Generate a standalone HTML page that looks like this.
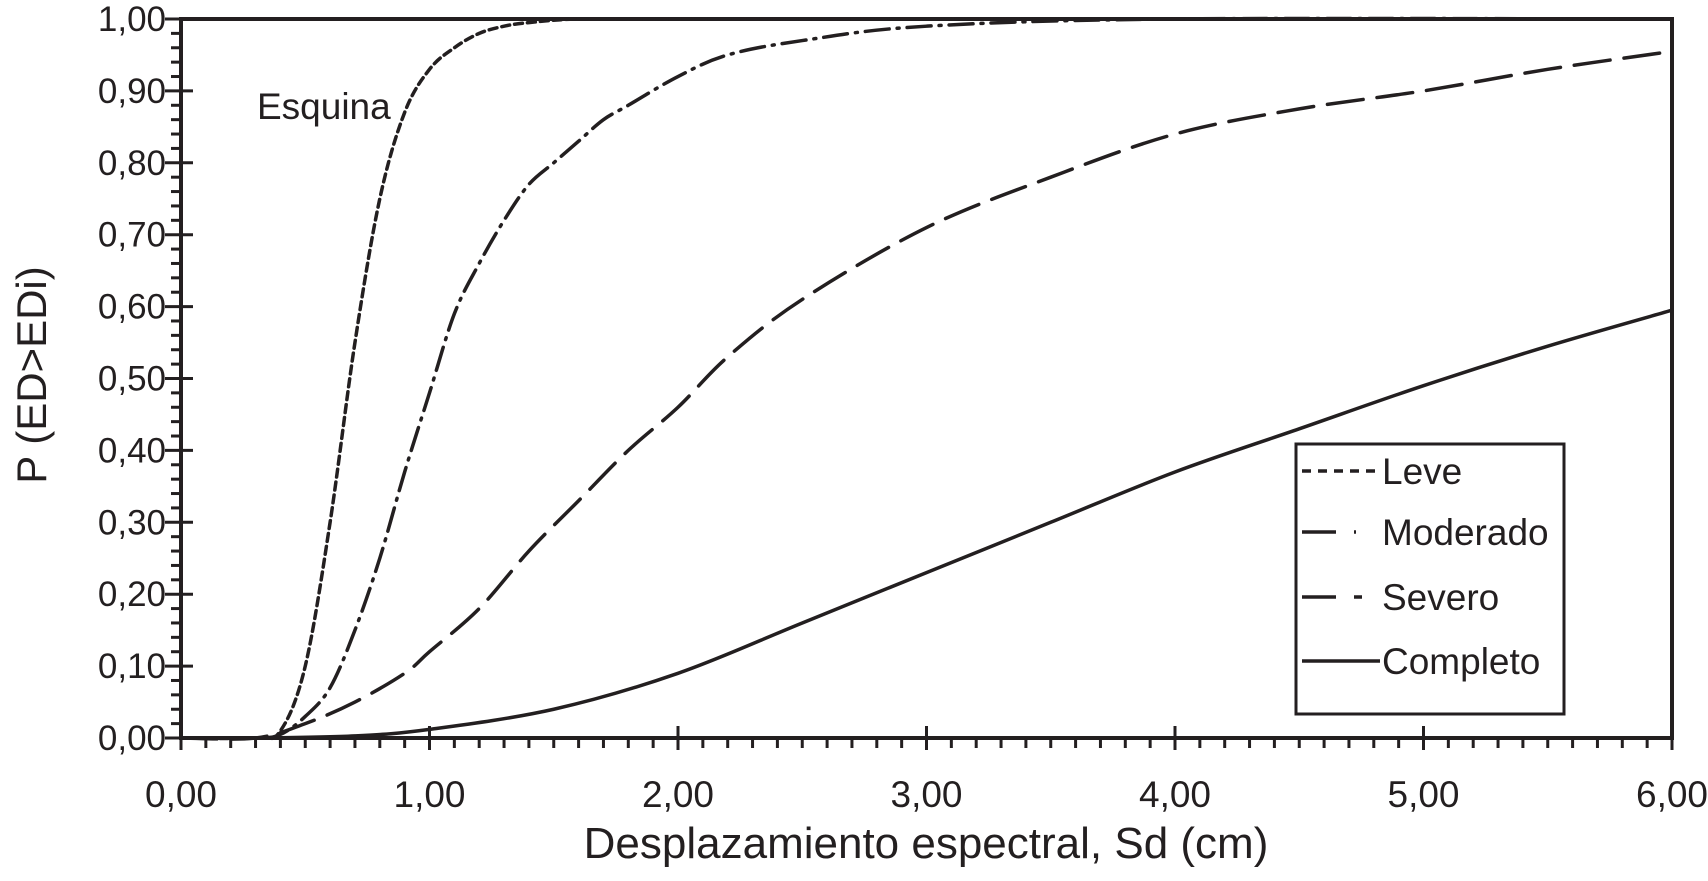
<!DOCTYPE html>
<html><head><meta charset="utf-8"><style>
html,body{margin:0;padding:0;background:#fff;}
svg{display:block;font-family:"Liberation Sans",Arial,sans-serif;}
</style></head><body>
<svg id="chart" width="1708" height="881" viewBox="0 0 1708 881"></svg>
<script>
const xTicks=[0,1,2,3,4,5,6];
const xTickLabels=["0,00","1,00","2,00","3,00","4,00","5,00","6,00"];
const yTicks=[0,0.1,0.2,0.3,0.4,0.5,0.6,0.7,0.8,0.9,1.0];
const yTickLabels=["0,00","0,10","0,20","0,30","0,40","0,50","0,60","0,70","0,80","0,90","1,00"];
const leveX=[0,0.3,0.4,0.5,0.6,0.7,0.8,0.9,1.0,1.1,1.2,1.3,1.4,1.6,2.0,6.0];
const leveY=[0,0,0.01,0.1,0.3,0.55,0.75,0.87,0.93,0.96,0.98,0.99,0.995,1.0,1.0,1.0];
const modX=[0,0.3,0.4,0.5,0.6,0.7,0.8,0.9,1.0,1.1,1.2,1.3,1.4,1.5,1.6,1.7,1.8,2.0,2.2,2.5,3.0,4.0,6.0];
const modY=[0,0,0.005,0.03,0.07,0.15,0.25,0.37,0.48,0.59,0.66,0.72,0.77,0.8,0.83,0.86,0.88,0.92,0.95,0.97,0.99,1.0,1.0];
const sevX=[0,0.3,0.5,0.7,0.9,1.0,1.2,1.4,1.6,1.8,2.0,2.2,2.5,3.0,3.5,4.0,4.5,5.0,5.5,6.0];
const sevY=[0,0,0.02,0.05,0.09,0.12,0.18,0.26,0.33,0.4,0.46,0.53,0.61,0.71,0.78,0.84,0.875,0.9,0.93,0.955];
const comX=[0,0.3,0.7,1.0,1.5,2.0,2.5,3.0,3.5,4.0,4.5,5.0,5.5,6.0];
const comY=[0,0,0.003,0.012,0.04,0.09,0.16,0.23,0.3,0.37,0.43,0.49,0.545,0.595];

const NS="http://www.w3.org/2000/svg";
const svg=document.getElementById('chart');
const L=181,R=1672,T=19,B=738;
const sx=v=>L+(v/6)*(R-L);
const sy=v=>B-v*(B-T);
function mk(tag,attrs,parent){const e=document.createElementNS(NS,tag);for(const k in attrs)e.setAttribute(k,attrs[k]);(parent||svg).appendChild(e);return e;}

const frame=mk('rect',{x:L,y:T,width:R-L,height:B-T,fill:'none',stroke:'#231f20','stroke-width':4});



for(let i=0;i<=60;i++){const x=sx(i/10);const big=i%10===0;
 const t=mk('line',{x1:x,x2:x,y1:big?B-12:B,y2:B+(big?12:10),stroke:'#231f20','stroke-width':3});
 
 }
for(let i=0;i<=50;i++){const y=sy(i/50);const big=i%5===0;
 const t=mk('line',{x1:L-(big?16:10),x2:big?L+12:L,y1:y,y2:y,stroke:'#231f20','stroke-width':3});
 
 }
xTicks.forEach((v,i)=>{const t=mk('text',{x:sx(v),y:807,'text-anchor':'middle','font-size':37,fill:'#231f20',textLength:72,lengthAdjust:'spacingAndGlyphs'});t.textContent=xTickLabels[i];
 
 });
yTicks.forEach((v,i)=>{const t=mk('text',{x:166,y:sy(v)+12,'text-anchor':'end','font-size':35,fill:'#231f20'});t.textContent=yTickLabels[i];
 
 });
const xt=mk('text',{x:926,y:858,'text-anchor':'middle','font-size':44,fill:'#231f20'});xt.textContent='Desplazamiento espectral, Sd (cm)';


const yt=mk('text',{x:0,y:0,'text-anchor':'middle','font-size':42,fill:'#231f20',transform:'translate(46,375) rotate(-90)'});yt.textContent='P (ED>EDi)';


const es=mk('text',{x:257,y:119,'text-anchor':'start','font-size':37,fill:'#231f20'});es.textContent='Esquina';



const series=[
 {name:'Leve',xs:leveX,ys:leveY,dash:'8,5'},
 {name:'Moderado',xs:modX,ys:modY,dash:'24,8,2,8'},
 {name:'Severo',xs:sevX,ys:sevY,dash:'36,14'},
 {name:'Completo',xs:comX,ys:comY,dash:''}];
function smoothPath(xs,ys){const p=xs.map((x,i)=>[sx(x),sy(ys[i])]);let d='M'+p[0][0]+','+p[0][1];
 for(let i=0;i<p.length-1;i++){const p0=p[Math.max(0,i-1)],p1=p[i],p2=p[i+1],p3=p[Math.min(p.length-1,i+2)];
  const c1=[p1[0]+(p2[0]-p0[0])/6,p1[1]+(p2[1]-p0[1])/6],c2=[p2[0]-(p3[0]-p1[0])/6,p2[1]-(p3[1]-p1[1])/6];
  d+=` C${c1[0]},${c1[1]} ${c2[0]},${c2[1]} ${p2[0]},${p2[1]}`;}return d;}
series.forEach(s=>{const p=mk('path',{d:smoothPath(s.xs,s.ys),fill:'none',stroke:'#231f20','stroke-width':3.5,'stroke-dasharray':s.dash,'stroke-linecap':'round'});
 
 });

const lg=mk('g',{});


mk('rect',{x:1296,y:444,width:268,height:270,fill:'#fff',stroke:'#231f20','stroke-width':3},lg);
const ly=[471,532,597,661];
const legDash=['9,7','34,18,2,50','34,18,8,50',''];
series.forEach((s,i)=>{
 const ln=mk('line',{x1:1302,x2:1380,y1:ly[i],y2:ly[i],stroke:'#231f20','stroke-width':3.5,'stroke-dasharray':legDash[i]},lg);
 
 
 const t=mk('text',{x:1382,y:ly[i]+13,'font-size':37,fill:'#231f20'},lg);t.textContent=s.name;
 
 });
</script>
</body></html>
